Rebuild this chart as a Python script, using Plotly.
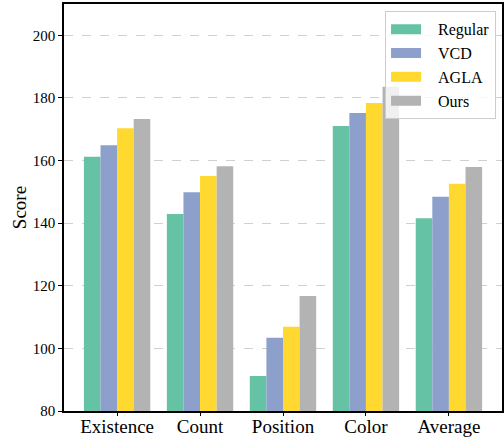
import plotly.graph_objects as go

categories = ["Existence", "Count", "Position", "Color", "Average"]
series_names = ["Regular", "VCD", "AGLA", "Ours"]
regular = [161.2, 142.9, 91.2, 171.0, 141.6]
vcd = [164.9, 149.9, 103.4, 175.2, 148.4]
agla = [170.3, 155.1, 106.9, 178.4, 152.6]
ours = [173.3, 158.2, 116.7, 183.6, 157.9]
colors = ["#66c2a5", "#8da0cb", "#ffd92f", "#b3b3b3"]
y_ticks = [80, 100, 120, 140, 160, 180, 200]

fig = go.Figure()
for name, vals, c in zip(series_names, [regular, vcd, agla, ours], colors):
    fig.add_trace(go.Bar(x=categories, y=vals, name=name, showlegend=False,
                         marker=dict(color=c, line=dict(width=0))))
# legend-only entries with wide swatches
pad = "\u00a0\u00a0\u00a0"
for name, c in zip(series_names, colors):
    fig.add_trace(go.Scatter(x=[None], y=[None], mode="lines", name=pad + name,
                             line=dict(color=c, width=12), hoverinfo="skip"))

font_family = "Liberation Serif, Times New Roman, serif"
fig.update_layout(
    width=504, height=437,
    margin=dict(l=64, r=2, t=4, b=26),
    barmode="group", bargap=0.2, bargroupgap=0,
    plot_bgcolor="white", paper_bgcolor="white",
    font=dict(family=font_family, color="black"),
    showlegend=True,
    legend=dict(x=0.733, y=0.982, xanchor="left", yanchor="top",
                bgcolor="rgba(255,255,255,0.8)", bordercolor="#cccccc", borderwidth=1,
                font=dict(size=16, family=font_family), itemwidth=30,
                entrywidth=100, entrywidthmode="pixels"),
)
fig.update_xaxes(
    type="category", range=[-0.64, 4.64], automargin=False,
    showline=True, linecolor="black", linewidth=1.5, mirror=True,
    ticks="outside", ticklen=3, tickcolor="black",
    tickfont=dict(size=19, family=font_family), showgrid=False,
    ticklabelstandoff=-6,
)
fig.update_yaxes(
    range=[80, 210], tickvals=y_ticks, automargin=False,
    showline=True, linecolor="black", linewidth=1.5, mirror=True,
    ticks="outside", ticklen=4, tickcolor="black",
    tickfont=dict(size=15, family=font_family),
    showgrid=True, gridcolor="#d0d0d0", griddash="dash", gridwidth=1,
    title=dict(text="Score", font=dict(size=19, family=font_family), standoff=1),
    zeroline=False,
)
fig.write_html("out.html", config={"displayModeBar": False},
               post_script="document.body.style.margin='0';document.body.style.overflow='hidden';")
